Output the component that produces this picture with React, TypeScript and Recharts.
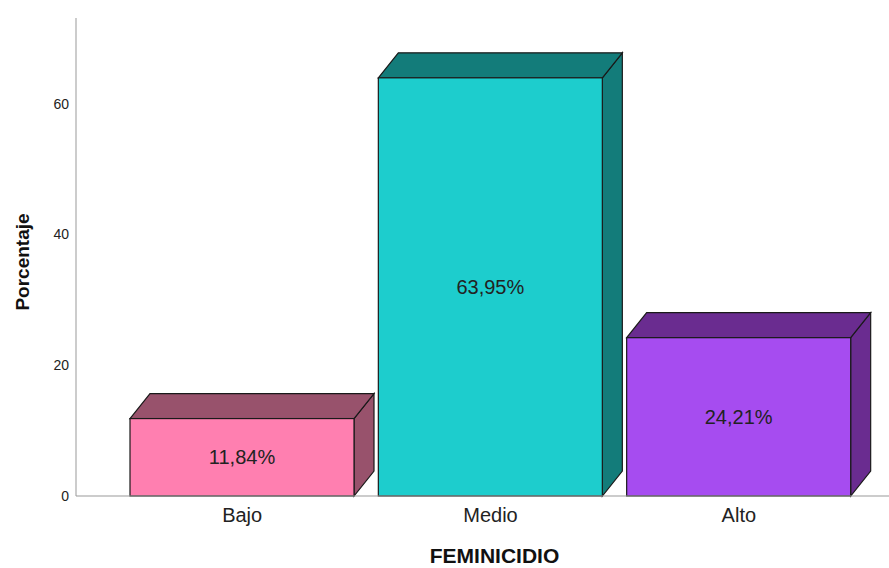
import React from 'react';
import { BarChart, Bar, XAxis, YAxis, LabelList } from 'recharts';

const categories = ['Bajo', 'Medio', 'Alto'];
const percentages = [11.84, 63.95, 24.21];
const yTicks = [0, 20, 40, 60];

const frontColors = ['#FF7FB0', '#1DCDCD', '#A64CF0'];
const sideColors = ['#98526C', '#137C7A', '#6A2C90'];

const data = categories.map((name, i) => ({ name, value: percentages[i], idx: i }));

const DEPTH_X = 20;
const DEPTH_Y = 25;

const Bar3D = (props: any) => {
  const { x, y, width, height, payload } = props;
  const i = payload.idx;
  const stroke = '#1a1a1a';
  const top = `${x},${y} ${x + DEPTH_X},${y - DEPTH_Y} ${x + width + DEPTH_X},${y - DEPTH_Y} ${x + width},${y}`;
  const side = `${x + width},${y} ${x + width + DEPTH_X},${y - DEPTH_Y} ${x + width + DEPTH_X},${y + height - DEPTH_Y} ${x + width},${y + height}`;
  return (
    <g>
      <polygon points={side} fill={sideColors[i]} stroke={stroke} strokeWidth={1.2} />
      <polygon points={top} fill={sideColors[i]} stroke={stroke} strokeWidth={1.2} />
      <rect x={x} y={y} width={width} height={height} fill={frontColors[i]} stroke={stroke} strokeWidth={1.2} />
    </g>
  );
};

const formatPct = (v: any) => `${Number(v).toFixed(2).replace('.', ',')}%`;

const App: React.FC = () => {
  return (
    <div style={{ position: 'absolute', left: 0, top: 0, background: '#fff', fontFamily: '"Liberation Sans", Arial, sans-serif' }}>
      <BarChart width={889} height={568} data={data} margin={{ top: 18, right: 0, bottom: 0, left: 0 }}>
        <XAxis
          dataKey="name"
          height={72}
          padding={{ left: 42, right: 26 }}
          tickLine={false}
          axisLine={{ stroke: '#999' }}
          tickMargin={6}
          tick={{ fill: '#222', fontSize: 20, fontFamily: '"Liberation Sans", Arial, sans-serif' }}
          label={{
            content: (p: any) => {
              const vb = p.viewBox;
              return (
                <text x={vb.x + vb.width / 2 + 12} y={563} textAnchor="middle" fontSize={21} fontWeight="bold" fill="#111" fontFamily='"Liberation Sans", Arial, sans-serif'>
                  FEMINICIDIO
                </text>
              );
            },
          }}
        />
        <YAxis
          width={76}
          domain={[0, 73.1]}
          ticks={yTicks}
          tickLine={false}
          axisLine={{ stroke: '#999' }}
          tickMargin={1}
          tick={{ fill: '#222', fontSize: 14, fontFamily: '"Liberation Sans", Arial, sans-serif' }}
          label={{
            content: (p: any) => {
              const vb = p.viewBox;
              const cx = 22;
              const cy = vb.y + vb.height / 2 + 5;
              return (
                <text x={cx} y={cy} transform={`rotate(-90, ${cx}, ${cy})`} textAnchor="middle" dominantBaseline="central" fontSize={19} fontWeight="bold" fill="#111" fontFamily='"Liberation Sans", Arial, sans-serif'>
                  Porcentaje
                </text>
              );
            },
          }}
        />
        <Bar dataKey="value" barSize={224} shape={<Bar3D />} isAnimationActive={false}>
          <LabelList dataKey="value" position="center" formatter={formatPct} fill="#222" fontSize={20} fontFamily='"Liberation Sans", Arial, sans-serif' />
        </Bar>
      </BarChart>
    </div>
  );
};

export default App;
